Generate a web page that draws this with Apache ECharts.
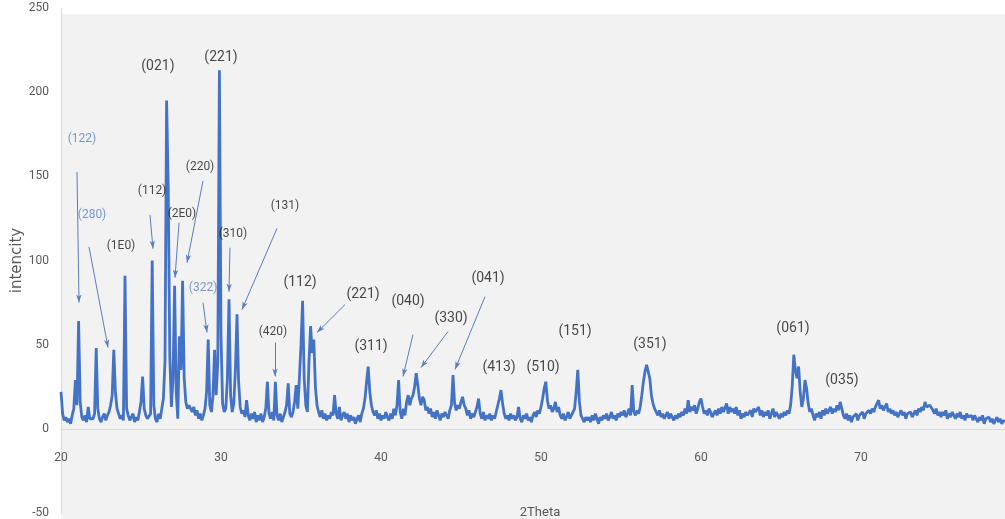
<!DOCTYPE html>
<html><head><meta charset="utf-8">
<script src="https://cdn.jsdelivr.net/npm/echarts@6/dist/echarts.min.js"></script>
<style>html,body{margin:0;padding:0;background:#fff}#c{width:1005px;height:519px}</style>
</head><body><div id="c"></div>
<script>
// XRD scan: 2Theta from 20 to 79 in 0.1 degree steps
const scanStart = 20;
const scanStep = 0.1;
const intensity = [
  22, 9, 5, 7, 4, 6, 3, 8, 12, 29,
  14, 64, 16, 7, 5, 8, 4, 13, 6, 5,
  6, 9, 48, 12, 6, 4, 7, 9, 5, 8,
  10, 14, 20, 47, 22, 12, 9, 6, 8, 5,
  91, 12, 8, 5, 6, 9, 4, 7, 5, 10,
  16, 31, 12, 8, 6, 5, 9, 100, 14, 6,
  4, 9, 6, 12, 18, 40, 195, 145, 43, 13,
  30, 85, 22, 6, 55, 35, 88, 30, 16, 12,
  14, 12, 10, 13, 8, 11, 6, 9, 5, 8,
  12, 22, 53, 14, 10, 20, 47, 20, 40, 213,
  55, 15, 10, 12, 30, 77, 20, 10, 15, 35,
  68, 28, 13, 9, 11, 7, 17, 8, 5, 9,
  6, 10, 4, 8, 5, 9, 4, 7, 12, 28,
  9, 6, 10, 5, 28, 8, 5, 9, 4, 7,
  10, 14, 27, 9, 7, 10, 16, 26, 12, 30,
  50, 76, 30, 14, 10, 40, 61, 45, 53, 25,
  14, 10, 7, 11, 6, 9, 5, 8, 6, 10,
  8, 20, 9, 6, 13, 5, 8, 10, 6, 9,
  4, 8, 5, 7, 3, 6, 8, 4, 9, 12,
  18, 28, 37, 22, 14, 10, 8, 11, 6, 9,
  5, 8, 6, 10, 7, 5, 9, 6, 12, 8,
  14, 29, 10, 6, 12, 8, 16, 20, 14, 18,
  20, 25, 33, 26, 18, 14, 19, 17, 11, 13,
  9, 12, 7, 10, 6, 11, 8, 5, 9, 7,
  10, 8, 6, 11, 14, 32, 15, 11, 14, 12,
  16, 19, 14, 12, 8, 11, 6, 9, 7, 10,
  13, 18, 9, 6, 10, 5, 8, 6, 9, 5,
  8, 6, 10, 14, 18, 23, 15, 9, 6, 8,
  5, 9, 6, 8, 5, 7, 13, 6, 4, 8,
  6, 9, 5, 7, 4, 8, 10, 7, 11, 9,
  13, 18, 24, 28, 17, 12, 14, 10, 12, 16,
  10, 13, 8, 6, 9, 5, 7, 10, 6, 8,
  8, 12, 22, 35, 16, 8, 6, 4, 7, 5,
  7, 4, 8, 5, 9, 6, 3, 7, 5, 8,
  6, 9, 5, 7, 10, 6, 8, 5, 9, 7,
  10, 8, 11, 7, 9, 12, 8, 26, 10, 8,
  11, 9, 13, 20, 28, 34, 38, 37, 30, 20,
  15, 12, 10, 8, 11, 7, 9, 6, 8, 10,
  6, 9, 7, 5, 8, 6, 9, 7, 10, 8,
  12, 9, 17, 10, 13, 11, 14, 9, 12, 16,
  18, 13, 9, 11, 8, 12, 10, 7, 9, 11,
  8, 12, 9, 13, 10, 11, 15, 9, 13, 10,
  12, 9, 13, 8, 11, 6, 9, 7, 10, 8,
  9, 11, 7, 12, 10, 11, 13, 8, 11, 7,
  10, 8, 11, 6, 9, 12, 7, 10, 8, 6,
  9, 7, 10, 8, 11, 9, 14, 25, 44, 35,
  30, 37, 22, 13, 18, 29, 24, 15, 10, 12,
  8, 5, 9, 7, 10, 6, 11, 8, 12, 9,
  10, 13, 9, 12, 10, 14, 11, 16, 12, 8,
  6, 9, 5, 8, 4, 7, 6, 9, 5, 8,
  7, 10, 6, 9, 8, 11, 9, 12, 10, 13,
  14, 17, 12, 14, 11, 13, 15, 10, 12, 9,
  11, 8, 10, 7, 9, 11, 8, 10, 6, 9,
  8, 10, 7, 9, 11, 8, 12, 10, 13, 11,
  16, 13, 12, 14, 15, 11, 9, 12, 8, 10,
  7, 10, 8, 11, 6, 9, 7, 10, 8, 6,
  9, 7, 10, 6, 8, 5, 9, 7, 6, 8,
  5, 8, 6, 4, 7, 5, 8, 3, 6, 5,
  7, 4, 6, 3, 5, 7, 4, 6, 3, 5,
  4
];

// Peak annotations (anchor in data coordinates: 2Theta, intensity)
const peakLabels = ['(122)','(280)','(1E0)','(112)','(021)','(2E0)','(220)','(221)','(310)','(131)','(322)','(420)',
                    '(112)','(221)','(040)','(330)','(041)','(311)','(413)','(510)','(151)','(351)','(061)','(035)'];
const peakLabelX = [21.31, 21.94, 23.75, 25.69, 26.06, 27.56, 28.69, 30.0, 30.75, 34.0, 28.88, 33.25,
                    34.94, 38.88, 41.69, 44.38, 46.69, 39.38, 47.38, 50.13, 52.13, 56.81, 65.75, 68.81];
const peakLabelY = [172.1, 127.1, 108.7, 141.3, 215.4, 127.7, 155.6, 220.7, 115.9, 132.4, 83.9, 57.8,
                    86.8, 79.7, 75.6, 65.5, 89.2, 48.9, 36.4, 36.4, 57.8, 50.1, 59.6, 28.7];
const peakLabelGroup = ['ref','ref','minor','minor','major','minor','minor','major','minor','minor','ref','minor',
                        'major','major','major','major','major','major','major','major','major','major','major','major'];

// Arrows: from (text) -> to (peak), data coordinates
const arrowFromX = [21.0, 21.75, 25.56, 27.375, 28.875, 30.56, 33.5, 28.875, 33.375, 37.75, 42.0, 44.19, 46.5];
const arrowFromY = [152.6, 108.1, 127.1, 122.4, 147.3, 107.6, 119.1, 75.0, 51.3, 73.8, 56.0, 57.8, 78.5];
const arrowToX   = [21.125, 22.94, 25.75, 27.125, 27.875, 30.5, 31.31, 29.125, 33.375, 36.0, 41.375, 42.5, 44.625];
const arrowToY   = [75.0, 48.3, 107.0, 89.8, 98.7, 81.5, 70.8, 57.2, 31.1, 57.2, 31.1, 36.4, 35.3];

const LABEL_FONT = 'Roboto, "Liberation Sans", sans-serif';
const groupStyle = {
  ref:   { color: '#5b80be', fontSize: 12 },
  minor: { color: '#1a1a1a', fontSize: 12 },
  major: { color: '#1a1a1a', fontSize: 14 }
};

const lineData = intensity.map((v, i) => [Math.round((scanStart + i * scanStep) * 10) / 10, v]);
const labelData = peakLabels.map((t, i) => ({
  name: t,
  value: [peakLabelX[i], peakLabelY[i]],
  label: { color: groupStyle[peakLabelGroup[i]].color, fontSize: groupStyle[peakLabelGroup[i]].fontSize }
}));
const arrowData = arrowFromX.map((x, i) => [
  { coord: [x, arrowFromY[i]] },
  { coord: [arrowToX[i], arrowToY[i]] }
]);

const chart = echarts.init(document.getElementById('c'), null, { renderer: 'canvas' });
chart.setOption({
  animation: false,
  backgroundColor: '#ffffff',
  graphic: [{
    type: 'rect', z: -10, silent: true,
    shape: { x: 61, y: 14, width: 944, height: 505 },
    style: { fill: '#f2f2f2' }
  }],
  grid: { left: 61, right: 0, top: 8, bottom: 6, containLabel: false, outerBoundsMode: 'none' },
  xAxis: {
    type: 'value', min: 20, max: 79, interval: 10,
    splitLine: { show: false },
    axisTick: { show: false },
    axisLine: { show: true, onZero: true, lineStyle: { color: '#d9d9d9', width: 1 } },
    axisLabel: { color: '#595959', fontSize: 12, fontFamily: LABEL_FONT, inside: true, margin: 49, showMaxLabel: false },
    name: '2Theta', nameLocation: 'middle', nameGap: -7, nameMoveOverlap: false,
    nameTextStyle: { color: '#595959', fontSize: 13, fontFamily: LABEL_FONT, padding: [0, 0, 0, 14] }
  },
  yAxis: {
    type: 'value', min: -50, max: 250, interval: 50,
    splitLine: { show: false },
    axisTick: { show: false },
    axisLine: { show: true, lineStyle: { color: '#d9d9d9', width: 1 } },
    axisLabel: { color: '#595959', fontSize: 12, fontFamily: LABEL_FONT, margin: 12 },
    name: 'intencity', nameLocation: 'middle', nameGap: 36, nameRotate: 90, nameMoveOverlap: false,
    nameTextStyle: { color: '#595959', fontSize: 15, fontFamily: 'DejaVu Sans, sans-serif' }
  },
  series: [
    {
      type: 'line', data: lineData, showSymbol: false, symbol: 'none',
      sampling: null, z: 3,
      lineStyle: { color: '#4472c4', width: 2.8 },
      markLine: {
        silent: true, animation: false,
        symbol: ['none', 'arrow'], symbolSize: [4, 8],
        label: { show: false },
        lineStyle: { color: '#5b7dbf', width: 1, type: 'solid' },
        emphasis: { disabled: true },
        data: arrowData
      }
    },
    {
      type: 'scatter', data: labelData, symbolSize: 1, silent: true, z: 5,
      itemStyle: { color: 'rgba(0,0,0,0)' },
      label: { show: true, position: 'inside', formatter: '{b}', fontFamily: LABEL_FONT }
    }
  ]
});
</script>
</body></html>
